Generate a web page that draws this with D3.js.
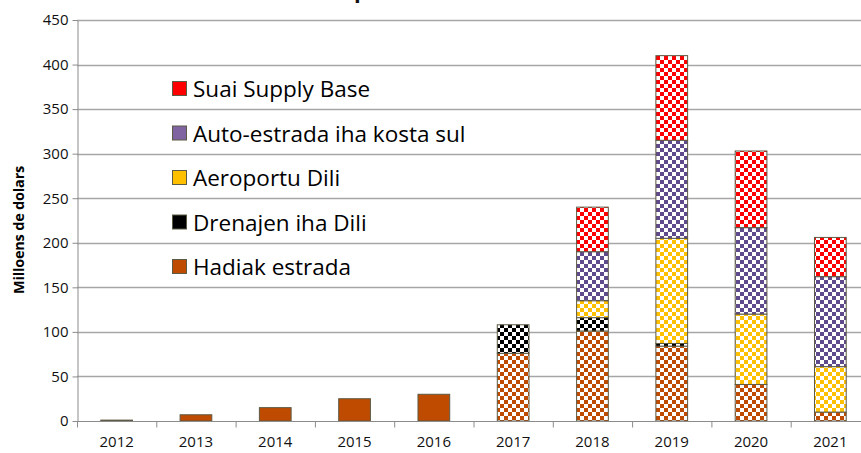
<!DOCTYPE html>
<html>
<head>
<meta charset="utf-8">
<script src="https://cdn.jsdelivr.net/npm/d3@7"></script>
<style>
  body { margin: 0; background: #fff; }
  svg { display: block; font-family: "Open Sans", Lato, sans-serif; }
</style>
</head>
<body>
<div id="chart"></div>
<script>
// years and series (millions of dollars)
const years = ["2012", "2013", "2014", "2015", "2016", "2017", "2018", "2019", "2020", "2021"];
const hadiakEstrada = [1, 7, 15, 25, 30, 76, 101, 84, 41, 10];
const drenajenDili  = [0, 0, 0, 0, 0, 32, 15, 3, 0, 0];
const aeroportuDili = [0, 0, 0, 0, 0, 0, 19, 118, 79, 51];
const autoEstrada   = [0, 0, 0, 0, 0, 0, 55, 110, 97, 101];
const suaiSupply    = [0, 0, 0, 0, 0, 0, 50, 95, 86, 44];
const checkeredYears = ["2017", "2018", "2019", "2020", "2021"];
const yTicks = [0, 50, 100, 150, 200, 250, 300, 350, 400, 450];

const series = [
  { key: "hadiak", name: "Hadiak estrada", values: hadiakEstrada, color: "#BF4B00" },
  { key: "drenajen", name: "Drenajen iha Dili", values: drenajenDili, color: "#000000" },
  { key: "aeroportu", name: "Aeroportu Dili", values: aeroportuDili, color: "#FFC000" },
  { key: "auto", name: "Auto-estrada iha kosta sul", values: autoEstrada, color: "#5F4B8B", legendColor: "#8064A2" },
  { key: "suai", name: "Suai Supply Base", values: suaiSupply, color: "#FF0000" }
];

const W = 861, H = 453;
const plotLeft = 77, plotTop = 20, plotBottom = 421;

const svg = d3.select("#chart").append("svg")
  .attr("width", W)
  .attr("height", H);

// checker patterns for the later years
const defs = svg.append("defs");
series.forEach(s => {
  let p = defs.append("pattern")
    .attr("id", "chk-" + s.key)
    .attr("patternUnits", "userSpaceOnUse")
    .attr("width", 8)
    .attr("height", 8);
  p.append("rect").attr("width", 8).attr("height", 8).attr("fill", "#fff");
  p.append("rect").attr("width", 4).attr("height", 4).attr("fill", s.color);
  p.append("rect").attr("x", 4).attr("y", 4).attr("width", 4).attr("height", 4).attr("fill", s.color);
});

let x = d3.scaleBand()
  .domain(years)
  .range([plotLeft, plotLeft + 793])
  .paddingInner(0.6)
  .paddingOuter(0.3);

let y = d3.scaleLinear()
  .domain([0, 450])
  .range([plotBottom, plotTop]);

// gridlines
svg.append("g")
  .selectAll("line")
  .data(yTicks.filter(t => t > 0))
  .enter().append("line")
  .attr("x1", plotLeft)
  .attr("x2", W)
  .attr("y1", d => Math.round(y(d)) + 0.5)
  .attr("y2", d => Math.round(y(d)) + 0.5)
  .attr("stroke", "#a6a6a6")
  .attr("stroke-width", 1.5);

// stacked bars
let stackData = years.map((yr, i) => {
  let row = { year: yr };
  series.forEach(s => row[s.key] = s.values[i]);
  return row;
});
let stacked = d3.stack().keys(series.map(s => s.key))(stackData);

stacked.forEach((layer, li) => {
  let s = series[li];
  svg.append("g")
    .selectAll("rect")
    .data(layer.filter(d => d[1] - d[0] > 0))
    .enter().append("rect")
    .attr("x", d => x(d.data.year))
    .attr("y", d => y(d[1]))
    .attr("width", x.bandwidth())
    .attr("height", d => y(d[0]) - y(d[1]))
    .attr("fill", d => checkeredYears.includes(d.data.year) ? `url(#chk-${s.key})` : s.color)
    .attr("stroke", "#5d5a45")
    .attr("stroke-width", 1);
});

// y axis
let yAxis = svg.append("g")
  .attr("transform", `translate(${plotLeft + 0.5},0)`)
  .call(d3.axisLeft(y).tickValues(yTicks).tickSize(5).tickSizeOuter(0));
yAxis.select(".domain").attr("stroke", "#8c8c8c");
yAxis.selectAll(".tick line").attr("stroke", "#8c8c8c");
yAxis.selectAll("text")
  .attr("x", -9)
  .attr("font-size", 15)
  .attr("fill", "#111")
  .attr("font-family", "'Open Sans', sans-serif");

// x axis
let xAxis = svg.append("g")
  .attr("transform", `translate(0,${plotBottom + 0.5})`);
xAxis.append("line")
  .attr("x1", plotLeft).attr("x2", W)
  .attr("stroke", "#8c8c8c");
xAxis.selectAll("line.tk")
  .data(years)
  .enter().append("line")
  .attr("class", "tk")
  .attr("x1", d => x(d) - x.step() * 0.3 + 0.5)
  .attr("x2", d => x(d) - x.step() * 0.3 + 0.5)
  .attr("y1", 0).attr("y2", 6)
  .attr("stroke", "#8c8c8c");
xAxis.selectAll("text")
  .data(years)
  .enter().append("text")
  .attr("x", d => x(d) + x.bandwidth() / 2)
  .attr("y", 25)
  .attr("text-anchor", "middle")
  .attr("font-size", 15)
  .attr("fill", "#111")
  .text(d => d);

// y label
svg.append("text")
  .attr("transform", "translate(24,230) rotate(-90)")
  .attr("text-anchor", "middle")
  .attr("font-size", 14.5)
  .attr("font-weight", "bold")
  .attr("letter-spacing", -0.2)
  .attr("fill", "#000")
  .text("Milloens de dolars");

// title (cut off at the top of the picture, as in the source)
svg.append("text")
  .attr("x", 354)
  .attr("y", -2)
  .attr("font-size", 22)
  .attr("font-weight", "bold")
  .attr("fill", "#111")
  .text("p");

// legend, top entry first
let legendItems = series.slice().reverse();
let legend = svg.append("g")
  .selectAll("g")
  .data(legendItems)
  .enter().append("g")
  .attr("transform", (d, i) => `translate(172,${89 + i * 44.5})`);
legend.append("rect")
  .attr("x", 0.5).attr("y", -7.5)
  .attr("width", 14).attr("height", 14)
  .attr("fill", d => d.legendColor || d.color)
  .attr("stroke", "#5d5a45");
legend.append("text")
  .attr("x", 21)
  .attr("y", 8)
  .attr("font-size", 22.5)
  .attr("fill", "#000")
  .text(d => d.name);
</script>
</body>
</html>
